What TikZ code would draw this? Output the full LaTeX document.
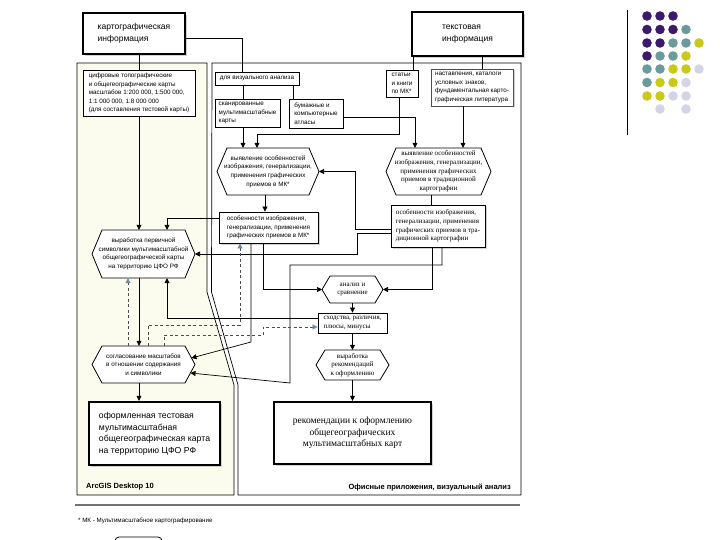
\documentclass[tikz,border=0pt]{standalone}
\usepackage{fontspec}
\setmainfont{Liberation Sans}
\newfontfamily\srf{Liberation Serif}
\usetikzlibrary{arrows.meta,shadows}
\definecolor{cream}{HTML}{FCFCEE}
\definecolor{dpurple}{HTML}{3C1A6B}
\definecolor{dteal}{HTML}{6A9A9C}
\definecolor{dyellow}{HTML}{CBC81C}
\definecolor{dlav}{HTML}{D4D4E8}
\definecolor{dashblue}{HTML}{6F88A3}
\newcommand\fsm{\fontsize{6.3}{8.6}\selectfont}
\newcommand\srfsm{\srf\fontsize{7}{8.7}\selectfont}
% name, style, center, width, height, point depth, text
\newcommand\hexa[7]{%
  \draw[hexline] #3 ++({-#4/2},0) coordinate (#1-W) -- ++(#6,{-#5/2}) -- ++({#4-2*#6},0)
     -- ++(#6,{#5/2}) coordinate (#1-E) -- ++(-#6,{#5/2}) -- ++({-(#4-2*#6)},0) -- cycle;
  \node[#2, minimum width={#4-2*#6}, minimum height=#5] (#1) at #3 {#7};}
\begin{document}
\begin{tikzpicture}[x=1pt,y=-1pt,
  ln/.style={line width=0.7pt},
  arr/.style={ln,-{Triangle[length=5pt,width=5pt]}},
  darr/.style={line width=0.6pt, draw=black!70, dash pattern=on 3pt off 2.5pt,
     -{Triangle[length=5pt,width=5pt,color=dashblue]}},
  box/.style={draw, line width=0.8pt, fill=white, inner sep=0pt, align=left, font=\fsm},
  shd/.style={drop shadow={shadow xshift=1.5pt,shadow yshift=-1.5pt,fill=black!35}},
  big/.style={draw, line width=2.4pt, fill=white, inner sep=0pt, align=left,
     drop shadow={shadow xshift=1.8pt,shadow yshift=-1.8pt,fill=black!35}},
  hexline/.style={draw, line width=0.8pt, fill=white},
  hx/.style={inner sep=0pt, align=center, font=\fsm},
  hs/.style={inner sep=0pt, align=center, font=\srfsm},
]
\useasboundingbox (0,0) rectangle (720,540);
% panels
\draw[fill=cream, line width=0.7pt] (77,63) -- (207,63) -- (207,292) -- (234,385) -- (234,495) -- (77,495) -- cycle;
\draw[line width=0.7pt] (212,63) -- (521,63) -- (521,495) -- (238,495) -- (238,385) -- (211.5,292) -- cycle;
% separator and footnote
\draw[black!55, line width=1.3pt] (75,505) -- (520,505);
\node[anchor=west, inner sep=0pt, font=\fontsize{6.2}{7}\selectfont] (fn) at (78,521) {* МК - Мультимасштабное картографирование};
\draw[line width=0.8pt, rounded corners=4pt] (115,550) -- (115,537) -- (162,537) -- (162,550);
% decoration
\draw[line width=0.8pt] (627,10) -- (627,135);
\foreach \c/\x/\y in {dpurple/647/16, dpurple/660/16, dpurple/673/16,
  dpurple/647/29.5, dpurple/660/29.5, dpurple/673/29.5, dteal/686/29.5,
  dpurple/647/43, dpurple/660/43, dteal/673/43, dteal/686/43, dyellow/699/43,
  dpurple/647/56, dteal/660/56, dteal/673/56, dyellow/686/56,
  dteal/647/69, dteal/660/69, dyellow/673/69, dyellow/686/69, dlav/699/69,
  dteal/647/82.5, dyellow/660/82.5, dyellow/673/82.5, dlav/686/82.5,
  dyellow/647/96, dyellow/660/96, dlav/673/96, dlav/686/96,
  dlav/660/109, dlav/686/109}
  \fill[\c] (\x,\y) circle (4.8);
% top boxes
\node[big, minimum width=102, minimum height=41, font=\fontsize{8.5}{11.5}\selectfont] (kart) at (134,33.5) {картографическая\\информация};
\node[big, minimum width=111, minimum height=44, font=\fontsize{8.5}{11.5}\selectfont] (tekst) at (467.5,34) {текстовая\\информация};
% left panel source
\node[box, minimum width=112, minimum height=46] (cifr) at (139,93) {цифровые топографические\\и общегеографические карты\\масштабов 1:200 000, 1:500 000,\\1:1 000 000, 1:8 000 000\\(для составления тестовой карты)};
% right panel sources
\node[box, minimum width=84, minimum height=13] (vis) at (257,78.5) {для визуального анализа};
\node[box, minimum width=65, minimum height=28] (skan) at (247.5,113) {сканированные\\мультимасштабные\\карты};
\node[box, minimum width=54, minimum height=29] (bum) at (316,113.5) {бумажные и\\компьютерные\\атласы};
\node[box, minimum width=32, minimum height=27] (stat) at (402,83.5) {статьи\\и книги\\по МК*};
\node[box, shd, draw=black!70, minimum width=82, minimum height=37] (nast) at (472,87.5) {наставления, каталоги\\условных знаков,\\фундаментальная карто-\\графическая литература};
% hexagons
\hexa{mk1}{hx}{(268,171.5)}{102}{47}{10}{выявление особенностей\\изображения, генерализации,\\применения графических\\приемов в МК*}
\hexa{trad1}{hs}{(438.5,171.5)}{105}{47}{10}{выявление особенностей\\изображения, генерализации,\\применения графических\\приемов в традиционной\\картографии}
\node[box, shd, minimum width=99, minimum height=31] (mk2) at (268.5,227.5) {особенности изображения,\\генерализации, применения\\графических приемов в МК*};
\node[box, shd, font=\srfsm, minimum width=94, minimum height=42] (trad2) at (438,226) {особенности изображения,\\генерализации, применения\\графических приемов в тра-\\диционной картографии};
\hexa{vyr}{hx}{(143.5,254)}{103}{48}{10}{выработка первичной\\символики мультимасштабной\\общегеографической карты\\на территорию ЦФО РФ}
\hexa{analiz}{hs}{(352.5,289.5)}{61}{27}{8}{анализ и\\сравнение}
\node[box, font=\srfsm, minimum width=69, minimum height=20] (shod) at (352.5,323) {сходства, различия,\\плюсы, минусы};
\hexa{sogl}{hx}{(143.5,364.5)}{103}{37}{10}{согласование масштабов\\в отношении содержания\\и символики}
\coordinate (sogl-a) at (191.5,358);
\coordinate (sogl-b) at (190.5,373);
\hexa{vyrrek}{hs}{(352.5,365)}{73}{30}{9}{выработка\\рекомендаций\\к оформлению}
% results
\node[big, minimum width=131, minimum height=63, font=\fontsize{8.7}{11.5}\selectfont] (ofor) at (154.5,433.5) {оформленная тестовая\\мультимасштабная\\общегеографическая карта\\на территорию ЦФО РФ};
\node[big, align=center, minimum width=157, minimum height=62, font=\srf\fontsize{9.5}{11.5}\selectfont] (rek) at (352.5,433) {рекомендации к оформлению\\общегеографических\\мультимасштабных карт};
% panel labels
\node[anchor=west, inner sep=0pt, font=\bfseries\fontsize{7.5}{9}\selectfont] (arc) at (86,487) {ArcGIS Desktop 10};
\node[anchor=east, inner sep=0pt, font=\bfseries\fontsize{7.5}{9}\selectfont] (ofis) at (511,487) {Офисные приложения, визуальный анализ};
% connectors
\draw[ln] (kart.south -| 139,0) -- (cifr.north -| 139,0);
\draw[arr] (cifr.south -| 139,0) -- (vyr.north -| 139,0);
\draw[ln] (kart.east |- 0,38) -| (vis.north -| 242,0);
\draw[ln] (vis.south -| 243,0) -- (skan.north -| 243,0);
\draw[ln] (vis.south -| 293,0) -- (bum.north -| 293,0);
\draw[ln] (tekst.south -| 413,0) -- (stat.north -| 413,0);
\draw[ln] (tekst.south -| 482,0) -- (nast.north -| 482,0);
\draw[arr] (skan.south -| 243,0) -- (mk1.north -| 243,0);
\draw[arr] (stat.south -| 399,0) -- (399,134) -| (mk1.north -| 257,0);
\draw[arr] (bum.east |- 0,117) -| (trad1.north -| 415,0);
\draw[arr] (nast.south -| 463,0) -- (trad1.north -| 463,0);
\draw[arr] (mk1.south -| 265,0) -- (mk2.north -| 265,0);
\draw[ln] (trad1.south -| 431,0) -- (trad2.north -| 431,0);
\draw[arr] (mk2.west |- 0,218) -| (vyr.north -| 167,0);
\draw[arr] (trad2.west |- 0,229) -- (355,229) |- (mk1-E);
\draw[arr] (trad2.west |- 0,233) -- (357,233) |- (vyr-E);
\draw[arr] (mk2.south -| 263,0) |- (analiz-W);
\draw[arr] (trad2.south -| 432,0) |- (analiz-E);
\draw[arr] (trad2.south -| 442,0) -- (442,265) -- (290,265) -- (290,383) -- (sogl-b);
\draw[arr] (mk2.south -| 251,0) -- (251,342) -- (sogl-a);
\draw[arr] (analiz.south) -- (shod.north);
\draw[arr] (shod.west |- 0,318) -| (vyr.south -| 167,0);
\draw[arr] (vyr.south -| 139,0) -- (sogl.north -| 139,0);
\draw[darr] (sogl.north -| 128,0) -- (vyr.south -| 128,0);
\draw[darr] (sogl.north -| 148,0) -- (148,325) -| (mk2.south -| 240,0);
\draw[darr] (sogl.north -| 164,0) -- (164,335) -- (263,335) -- (263,327) -- (shod.west |- 0,327);
\draw[arr] (shod.south) -- (vyrrek.north);
\draw[arr] (vyrrek.south) -- (rek.north);
\draw[arr] (sogl.south -| 139,0) -- (ofor.north -| 139,0);
\end{tikzpicture}
\end{document}
